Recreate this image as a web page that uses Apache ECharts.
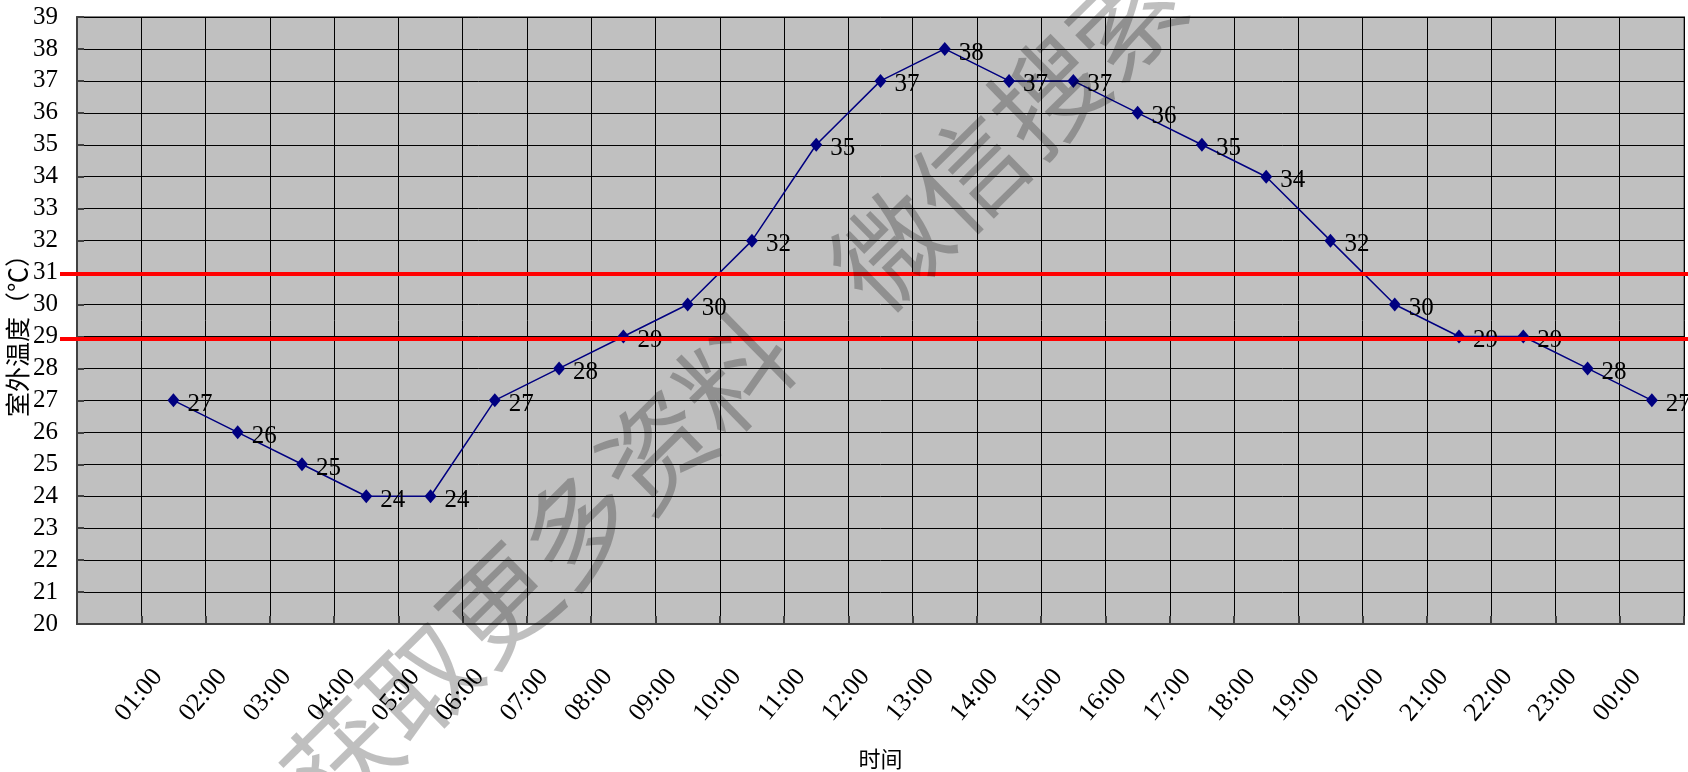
<!DOCTYPE html>
<html>
<head>
<meta charset="utf-8">
<script src="https://cdn.jsdelivr.net/npm/echarts@6/dist/echarts.min.js"></script>
<style>
  html, body { margin: 0; padding: 0; background: #fff; }
  #chart { width: 1688px; height: 772px; }
</style>
</head>
<body>
<div id="chart"></div>
<script>
// 横轴：第一格留空，后面是 24 个整点
let hours = ['', '01:00', '02:00', '03:00', '04:00', '05:00', '06:00', '07:00', '08:00',
  '09:00', '10:00', '11:00', '12:00', '13:00', '14:00', '15:00', '16:00',
  '17:00', '18:00', '19:00', '20:00', '21:00', '22:00', '23:00', '00:00'];
// 室外温度（℃）
let temps = ['-', 27, 26, 25, 24, 24, 27, 28, 29, 30, 32, 35, 37, 38, 37, 37, 36, 35, 34, 32, 30, 29, 29, 28, 27];
// 两条红色参考线
let refLines = [30.97, 28.92];
let yTicks = [20, 39, 1]; // min, max, interval

const numFont = 'Liberation Serif';
const cjkFont = 'Noto Sans CJK SC';
const wmAngle = 44.5 * Math.PI / 180;

let options = {
    backgroundColor: '#ffffff',
    animation: false,
    grid: [
        {
            left: 77, right: 4, top: 17, bottom: 148,
            outerBoundsMode: 'none',
            show: true,
            backgroundColor: '#c0c0c0',
            borderColor: '#808080',
            borderWidth: 2
        },
        // 红线比绘图区向左多出一截
        { left: 60, right: 0, top: 17, bottom: 148, outerBoundsMode: 'none' }
    ],
    xAxis: [
        {
            type: 'category',
            gridIndex: 0,
            data: hours,
            boundaryGap: true,
            name: '时间',
            nameLocation: 'middle',
            nameGap: 124,
            nameMoveOverlap: false,
            nameTextStyle: { fontFamily: cjkFont, fontSize: 22, color: '#000' },
            axisLine: { lineStyle: { color: '#404040', width: 2 } },
            axisTick: { show: true, inside: true, length: 8, lineStyle: { color: '#404040', width: 2 } },
            axisLabel: {
                interval: 0,
                rotate: 50,
                margin: 30,
                padding: [0, 24, 0, 0],
                fontFamily: numFont,
                fontSize: 26,
                color: '#000'
            },
            splitLine: { show: true, interval: 0, lineStyle: { color: '#000', width: 1 } }
        },
        { type: 'value', gridIndex: 1, show: false, min: 0, max: 1 }
    ],
    yAxis: [
        {
            type: 'value',
            gridIndex: 0,
            min: yTicks[0],
            max: yTicks[1],
            interval: yTicks[2],
            name: '室外温度（℃）',
            nameLocation: 'middle',
            nameGap: 47,
            nameMoveOverlap: false,
            nameTextStyle: { fontFamily: cjkFont, fontSize: 25, color: '#000', padding: [0, 18, 0, 0] },
            axisLine: { show: true, lineStyle: { color: '#404040', width: 2 } },
            axisTick: { show: true, inside: true, length: 7, lineStyle: { color: '#404040', width: 2 } },
            axisLabel: { margin: 19, fontFamily: numFont, fontSize: 25, color: '#000' },
            splitLine: { show: true, lineStyle: { color: '#000', width: 1 } }
        },
        { type: 'value', gridIndex: 1, show: false, min: yTicks[0], max: yTicks[1] }
    ],
    series: [
        {
            type: 'line',
            xAxisIndex: 0,
            yAxisIndex: 0,
            data: temps,
            symbol: 'diamond',
            symbolSize: [12, 14],
            lineStyle: { color: '#000080', width: 1.5 },
            itemStyle: { color: '#000080' },
            label: {
                show: true,
                position: 'right',
                distance: 8,
                offset: [0, 4],
                fontFamily: numFont,
                fontSize: 25,
                color: '#000'
            },
            z: 3
        },
        {
            type: 'line',
            xAxisIndex: 1,
            yAxisIndex: 1,
            data: [],
            z: 5,
            markLine: {
                silent: true,
                symbol: 'none',
                label: { show: false },
                lineStyle: { color: '#ff0000', width: 4, type: 'solid' },
                data: refLines.map(v => ({ yAxis: v }))
            }
        }
    ],
    // 水印
    graphic: [
        {
            type: 'text',
            x: 538, y: 566,
            rotation: wmAngle,
            z: 100,
            silent: true,
            style: {
                text: '获取更多资料',
                fontFamily: cjkFont,
                fontSize: 110,
                fill: 'rgba(0,0,0,0.25)',
                textAlign: 'center',
                textVerticalAlign: 'middle'
            }
        },
        {
            type: 'text',
            x: 1008, y: 134,
            rotation: wmAngle,
            z: 100,
            silent: true,
            style: {
                text: '微信搜索',
                fontFamily: cjkFont,
                fontSize: 110,
                fill: 'rgba(0,0,0,0.25)',
                textAlign: 'center',
                textVerticalAlign: 'middle'
            }
        }
    ]
};

let chart = echarts.init(document.getElementById('chart'));
chart.setOption(options);
</script>
</body>
</html>
